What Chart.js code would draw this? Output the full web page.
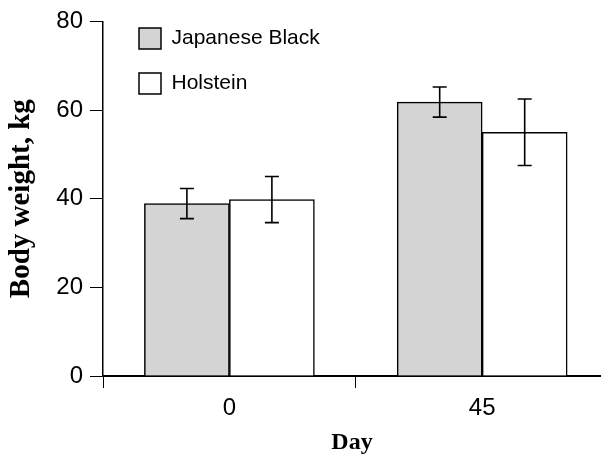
<!DOCTYPE html>
<html>
<head>
<meta charset="utf-8">
<script src="https://cdn.jsdelivr.net/npm/chart.js@4"></script>
<style>
  html, body { margin: 0; padding: 0; background: #fff; }
  #wrap { width: 601px; height: 459px; }
</style>
</head>
<body>
<div id="wrap"><canvas id="graph"></canvas></div>
<script>
'use strict'

// values
const days = ['0', '45'];
const japaneseBlack = [38.9, 61.8];
const japaneseBlackErr = [3.4, 3.4];
const holstein = [39.8, 55.0];
const holsteinErr = [5.2, 7.5];
const yTicks = [0, 20, 40, 60, 80];

const sans = "'Liberation Sans', Arial, sans-serif";
const serif = "'Liberation Serif', 'Times New Roman', serif";

// error bars drawn through the y scale
const errorBars = {
    id: 'errorBars',
    afterDatasetsDraw(chart) {
        const ctx = chart.ctx;
        const y = chart.scales.y;
        chart.data.datasets.forEach((ds, d) => {
            const meta = chart.getDatasetMeta(d);
            meta.data.forEach((bar, i) => {
                const v = ds.data[i].y;
                const e = ds.err[i];
                const top = y.getPixelForValue(v + e);
                const bot = y.getPixelForValue(v - e);
                ctx.save();
                ctx.strokeStyle = '#000';
                ctx.lineWidth = 1.6;
                ctx.beginPath();
                ctx.moveTo(bar.x, top); ctx.lineTo(bar.x, bot);
                ctx.moveTo(bar.x - 7, top); ctx.lineTo(bar.x + 7, top);
                ctx.moveTo(bar.x - 7, bot); ctx.lineTo(bar.x + 7, bot);
                ctx.stroke();
                ctx.restore();
            });
        });
    }
};

// nudge the legend to where it sits in the picture
const legendShift = {
    id: 'legendShift',
    afterLayout(chart) {
        chart.legend.left += 12;
        chart.legend.top += 4;
    }
};

let ctx = document.getElementById('graph');
new Chart(ctx, {
    type: 'bar',
    data: {
        datasets: [{
            label: 'Japanese Black',
            data: days.map((d, i) => ({ x: i, y: japaneseBlack[i] })),
            err: japaneseBlackErr,
            backgroundColor: '#d4d4d4',
            borderColor: '#000',
            borderWidth: 1.5,
            borderSkipped: 'bottom',
            barThickness: 85
        }, {
            label: 'Holstein',
            data: days.map((d, i) => ({ x: i, y: holstein[i] })),
            err: holsteinErr,
            backgroundColor: '#fff',
            borderColor: '#000',
            borderWidth: 1.5,
            borderSkipped: 'bottom',
            barThickness: 85
        }]
    },
    options: {
        responsive: true,
        maintainAspectRatio: false,
        animation: false,
        layout: { padding: { top: 16, left: 0, right: 0, bottom: 0 } },
        scales: {
            x: {
                type: 'linear',
                offset: false,
                min: -0.5,
                max: 1.47,
                afterBuildTicks: s => {
                    const t = [];
                    days.forEach((d, i) => { t.push({ value: i - 0.5 }); t.push({ value: i }); });
                    s.ticks = t;
                },
                afterFit: s => { s.height = 83; },
                border: { display: true, color: '#000', width: 2 },
                grid: {
                    offset: false,
                    drawOnChartArea: false,
                    drawTicks: true,
                    tickLength: 12,
                    lineWidth: 1,
                    color: c => (c.tick && Number.isInteger(c.tick.value)) ? 'rgba(0,0,0,0)' : '#000'
                },
                ticks: {
                    autoSkip: false,
                    maxRotation: 0,
                    padding: 6,
                    color: '#000',
                    font: { family: sans, size: 24 },
                    callback: v => Number.isInteger(v) ? days[v] : ''
                },
                title: {
                    display: true,
                    text: 'Day',
                    color: '#000',
                    font: { family: serif, size: 24, weight: 'bold' },
                    padding: { top: 0, bottom: 2 }
                }
            },
            y: {
                min: 0,
                max: 80,
                afterBuildTicks: s => { s.ticks = yTicks.map(v => ({ value: v })); },
                afterFit: s => { s.width = 103; },
                border: { display: true, color: '#000', width: 1.5 },
                grid: {
                    drawOnChartArea: false,
                    drawTicks: true,
                    tickLength: 13,
                    color: '#000'
                },
                ticks: {
                    padding: 7,
                    color: '#000',
                    font: { family: sans, size: 24 }
                },
                title: {
                    display: true,
                    text: 'Body weight, kg',
                    color: '#000',
                    font: { family: serif, size: 29, weight: 'bold' },
                    padding: { top: 4, bottom: 0 }
                }
            }
        },
        plugins: {
            legend: {
                position: 'chartArea',
                align: 'start',
                labels: {
                    boxWidth: 22,
                    boxHeight: 21,
                    padding: 24,
                    color: '#000',
                    font: { family: sans, size: 21 }
                }
            },
            tooltip: { enabled: false }
        }
    },
    plugins: [errorBars, legendShift]
});
</script>
</body>
</html>
